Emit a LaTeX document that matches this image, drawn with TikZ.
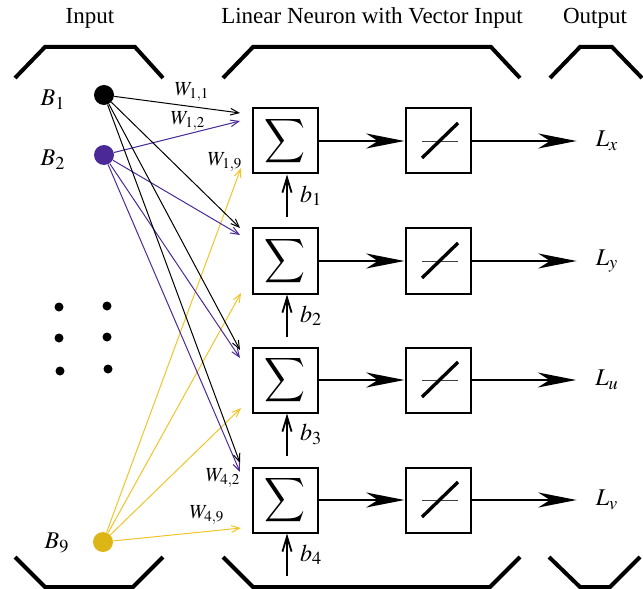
\documentclass[tikz,border=0pt]{standalone}
\usepackage{mathptmx}
\usepackage{fontspec}
\setmainfont{Liberation Serif}
\usepackage{graphicx}
\usetikzlibrary{positioning,arrows.meta,calc}
\definecolor{inpurple}{HTML}{4B2A98}
\definecolor{ingold}{HTML}{DDB515}
\definecolor{wgold}{HTML}{F0C52A}
\newcommand{\sumglyph}{\scalebox{1.7}[1.85]{\usefont{OMX}{cmex}{m}{n}\char"58}}
\tikzset{
	bracket/.style={line width=2.4pt},
	unitbox/.style={draw, line width=1.2pt, minimum size=39pt, inner sep=0pt},
	inputdot/.style={circle, inner sep=0pt, minimum size=12pt},
	weight/.style={-{Straight Barb[length=5pt,width=4pt]}, line width=0.6pt},
	bias/.style={-{Straight Barb[length=9pt,width=5.5pt]}, line width=1.1pt},
	flow/.style={-{Stealth[length=23pt,width=9pt,inset=7pt]}, line width=1.1pt},
	title/.style={font=\fontsize{13.8}{16}\selectfont}
}

\begin{document}
\begin{tikzpicture}[x=0.6pt, y=-0.6pt]
	\useasboundingbox (0,0) rectangle (643,589);
	\node[title] (tin) at (90,18) {Input};
	\node[title] (tneuron) at (372,18) {Linear Neuron with Vector Input};
	\node[title] (tout) at (595,18) {Output};
	\draw[bracket] (15,78) -- (45,47) -- (135,47) -- (163,78);
	\draw[bracket] (223,78) -- (253,47) -- (491,47) -- (520,78);
	\draw[bracket] (550,78) -- (580,47) -- (612,47) -- (642,78);
	\draw[bracket] (15,557) -- (45,587) -- (133,587) -- (163,557);
	\draw[bracket] (223,557) -- (253,587) -- (490,587) -- (520,557);
	\draw[bracket] (549,557) -- (580,587) -- (610,587) -- (640,557);

	\node[inputdot, fill=black] (B1) at (104,95) {};
	\node[inputdot, fill=inpurple] (B2) at (104,155) {};
	\node[inputdot, fill=ingold] (B9) at (103,542) {};
	\node[font=\Large] (labB1) at (53,100) {$B_1$};
	\node[font=\Large] (labB2) at (53,160) {$B_2$};
	\node[font=\Large] (labB9) at (57,543) {$B_9$};
	\foreach \x/\y in {59/307, 59/338, 60/371, 107/306, 107/337, 108/369}
		\fill (\x,\y) circle (2.7pt);

	\foreach \i/\ya/\yb/\yc in {1/113/121/168, 2/228/235/293, 3/350/358/408, 4/463/472/528} {
		\coordinate (wa\i) at (240,\ya);
		\coordinate (wb\i) at (240,\yb);
		\coordinate (wc\i) at (241,\yc);
		\draw[weight] (B1) -- (wa\i);
		\draw[weight, inpurple] (B2) -- (wb\i);
		\draw[weight, wgold] (B9) -- (wc\i);
	}
	\node[font=\large] (w11) at (192,92) {$W_{1,1}$};
	\node[font=\large] (w12) at (188,121) {$W_{1,2}$};
	\node[font=\large] (w19) at (225,162) {$W_{1,9}$};
	\node[font=\large] (w42) at (223,478) {$W_{4,2}$};
	\node[font=\large] (w49) at (207,515) {$W_{4,9}$};

	\foreach \i/\y/\out in {1/141/x, 2/261/y, 3/380/u, 4/500/v} {
		\node[unitbox] (sum\i) at (285,\y) {\sumglyph};
		\node[unitbox] (lin\i) at (438,\y) {};
		\draw[line width=0.5pt, darkgray]
			($(lin\i.center)+(-16,0)$) -- ++(36,0);
		\draw[line width=2pt]
			($(lin\i.center)+(-16,17)$) -- ($(lin\i.center)+(20,-18)$);
		\node[font=\Large] (out\i) at (607,\y) {$L_\out$};
		\coordinate (bias\i) at (287,\y+76);
		\draw[flow] (sum\i) -- (lin\i);
		\draw[flow, shorten >=8pt] (lin\i) -- (out\i);
		\draw[bias]
			(bias\i) -- (bias\i |- sum\i.south)
			node[midway, right=4pt, font=\Large] {$b_\i$};
	}
\end{tikzpicture}
\end{document}
